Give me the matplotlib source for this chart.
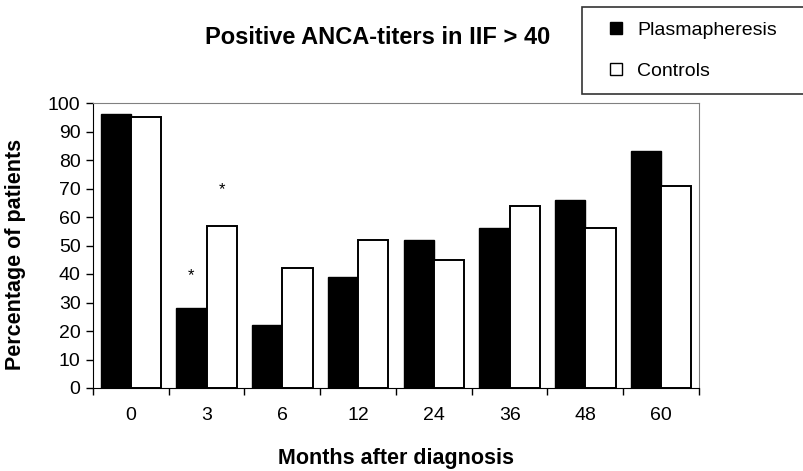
import numpy as np
import matplotlib.pyplot as plt
from matplotlib.lines import Line2D

months = ["0", "3", "6", "12", "24", "36", "48", "60"]
plasmapheresis = [96, 28, 22, 39, 52, 56, 66, 83]
controls = [95, 57, 42, 52, 45, 64, 56, 71]

# asterisks marking significant differences at month 3
star_idx = 1
star_heights = [39.5, 69.5]

plt.rcParams['font.family'] = ['Liberation Sans', 'DejaVu Sans']

fig = plt.figure(figsize=(8.04, 4.71), dpi=100)
ax = fig.add_axes([93 / 804, 1 - 388 / 471, 606 / 804, 285 / 471])

x = np.arange(len(months))
w = 0.4
ax.bar(x - w / 2, plasmapheresis, w, color='black', edgecolor='black', linewidth=1)
ax.bar(x + w / 2, controls, w, color='white', edgecolor='black', linewidth=1.4)

ax.text(star_idx - w / 2, star_heights[0], '*', ha='center', va='center', fontsize=12)
ax.text(star_idx + w / 2, star_heights[1], '*', ha='center', va='center', fontsize=12)

ax.set_xlim(-0.5, len(months) - 0.5)
ax.set_ylim(0, 100)
ax.set_yticks(range(0, 101, 10))
ax.set_xticks(np.arange(len(months) + 1) - 0.5)
ax.set_xticklabels([])
ax.set_xticks(x, minor=True)
ax.set_xticklabels(months, minor=True)
ax.tick_params(axis='x', which='minor', length=0, pad=14, labelsize=14)
ax.tick_params(axis='x', which='major', length=5, direction='out', width=1)
ax.tick_params(axis='y', length=5, direction='out', width=1, labelsize=14, pad=4)

for s in ['top', 'right']:
    ax.spines[s].set_color('#808080')
for s in ['left', 'bottom']:
    ax.spines[s].set_color('black')

ax.set_ylabel('Percentage of patients', fontsize=15.5, fontweight='bold')
ax.yaxis.set_label_coords(-0.11, 0.47)
ax.set_xlabel('Months after diagnosis', fontsize=15.5, fontweight='bold', labelpad=17)

fig.text(378 / 804, 1 - 38 / 471, 'Positive ANCA-titers in IIF > 40',
         ha='center', va='center', fontsize=17, fontweight='bold')

handles = [Line2D([], [], marker='s', linestyle='none', markersize=9,
                  markerfacecolor='black', markeredgecolor='black', label='Plasmapheresis'),
           Line2D([], [], marker='s', linestyle='none', markersize=9,
                  markerfacecolor='white', markeredgecolor='black', label='Controls')]
leg = fig.legend(handles=handles, loc='upper left',
                 bbox_to_anchor=(582 / 804, 1 - 7 / 471, 240 / 804, 0.001), mode='expand',
                 frameon=True, fancybox=False, fontsize=14,
                 handlelength=2.0, handletextpad=0.1,
                 borderpad=0.75, labelspacing=1.2, borderaxespad=0)
leg.get_frame().set_edgecolor('black')
leg.get_frame().set_linewidth(1.2)

fig.savefig('out.png', dpi=100)
